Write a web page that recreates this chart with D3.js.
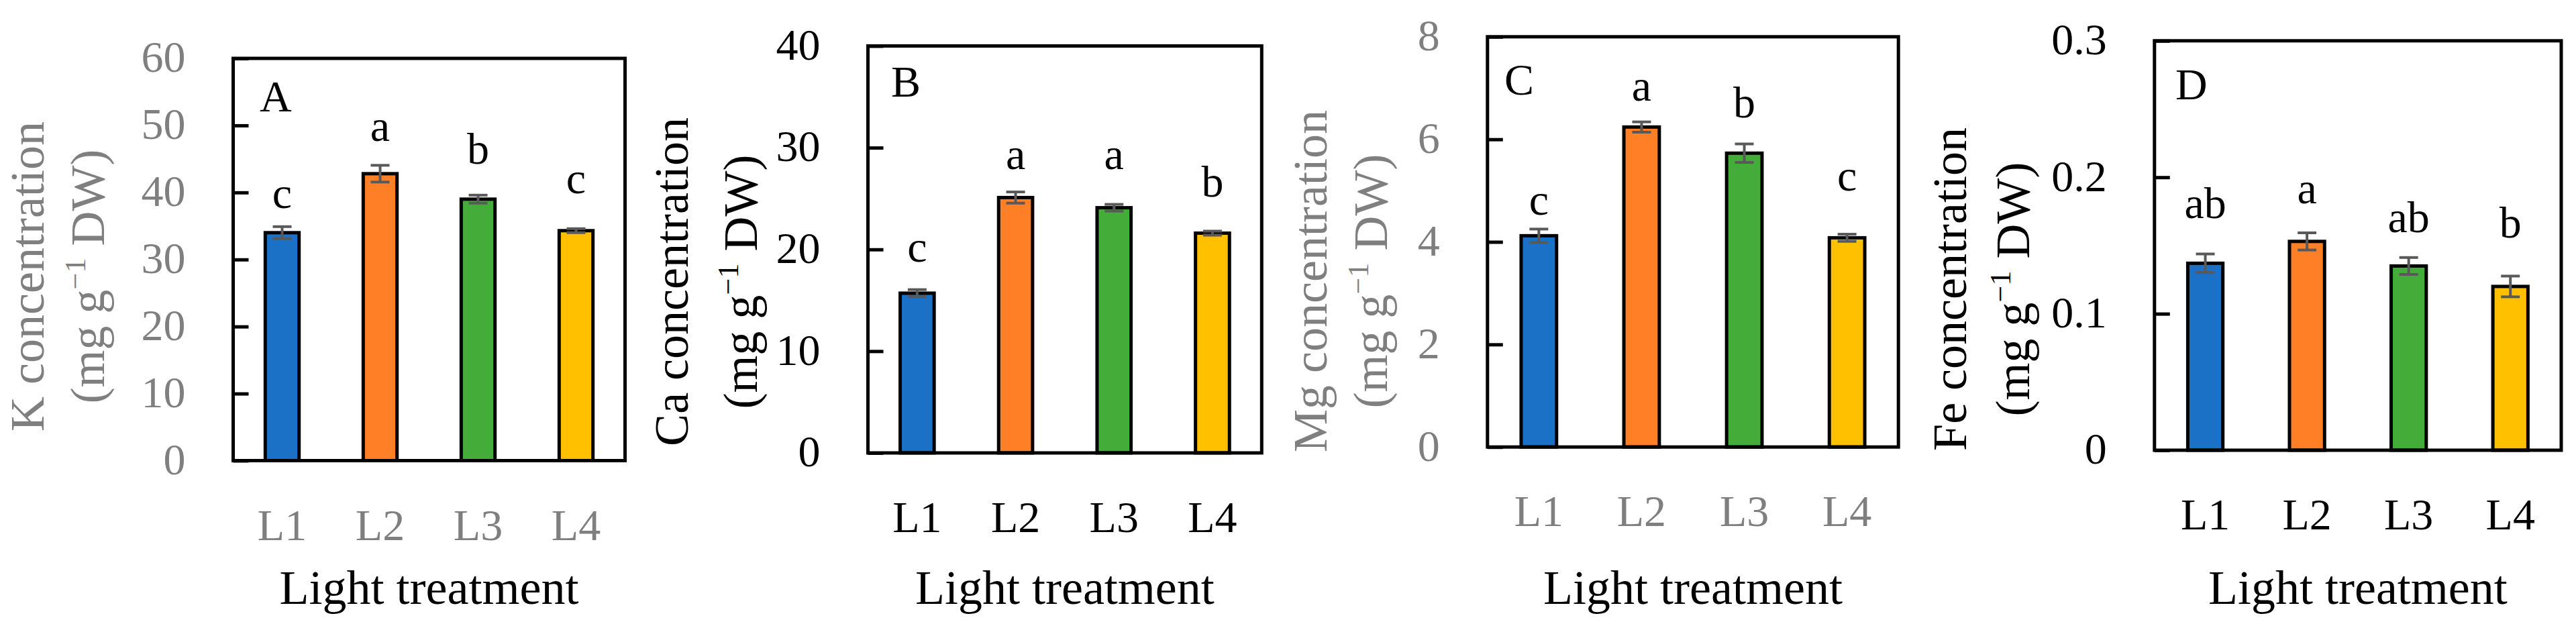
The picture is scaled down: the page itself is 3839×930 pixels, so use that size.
<!DOCTYPE html>
<html>
<head>
<meta charset="utf-8">
<script src="https://cdn.jsdelivr.net/npm/d3@7"></script>
<style>
  body { margin: 0; background: #fff; }
  svg text { font-family: "Palatino Linotype", "Book Antiqua", "Liberation Serif", serif; }
</style>
</head>
<body>
<div id="chart"></div>
<script>
// ---------------- data ----------------
var treatments = ["L1", "L2", "L3", "L4"];
var barColors = ["#1A71C6", "#FF7F27", "#44AD3A", "#FFC000"];

// K
var kMean = [34.0, 42.8, 39.0, 34.3];
var kErr = [0.9, 1.25, 0.6, 0.3];
var kLetters = ["c", "a", "b", "c"];
var kLetterY = [37.7, 47.7, 44.3, 39.9];
var kTicks = [0, 10, 20, 30, 40, 50, 60];

// Ca
var caMean = [15.7, 25.1, 24.1, 21.6];
var caErr = [0.35, 0.55, 0.33, 0.2];
var caLetters = ["c", "a", "a", "b"];
var caLetterY = [18.8, 27.9, 27.9, 25.2];
var caTicks = [0, 10, 20, 30, 40];

// Mg
var mgMean = [4.12, 6.24, 5.73, 4.08];
var mgErr = [0.13, 0.1, 0.18, 0.07];
var mgLetters = ["c", "a", "b", "c"];
var mgLetterY = [4.53, 6.76, 6.43, 5.0];
var mgTicks = [0, 2, 4, 6, 8];

// Fe
var feMean = [0.137, 0.153, 0.135, 0.120];
var feErr = [0.0068, 0.0063, 0.0062, 0.0076];
var feLetters = ["ab", "a", "ab", "b"];
var feLetterY = [0.170, 0.181, 0.160, 0.156];
var feTicks = [0, 0.1, 0.2, 0.3];
var feTickLabels = ["0", "0.1", "0.2", "0.3"];

// ---------------- layout ----------------
var grey = "#7F7F7F";
var panels = [
  { tag: "A", el: "K", mean: kMean, err: kErr, letters: kLetters, letterY: kLetterY,
    ticks: kTicks, max: 60, grey: true,
    box: [347.5, 87, 931.5, 686.5], t1: 65, t2: 155, tyc: 412, tagPos: [387, 166] },
  { tag: "B", el: "Ca", mean: caMean, err: caErr, letters: caLetters, letterY: caLetterY,
    ticks: caTicks, max: 40, grey: false,
    box: [1293.5, 68.5, 1880.3, 675], t1: 1025, t2: 1128, tyc: 420, tagPos: [1328, 144] },
  { tag: "C", el: "Mg", mean: mgMean, err: mgErr, letters: mgLetters, letterY: mgLetterY,
    ticks: mgTicks, max: 8, grey: true,
    box: [2216.8, 54.8, 2829.2, 666.2], t1: 1977, t2: 2067, tyc: 419, tagPos: [2242, 141] },
  { tag: "D", el: "Fe", mean: feMean, err: feErr, letters: feLetters, letterY: feLetterY,
    ticks: feTicks, tickLabels: feTickLabels, max: 0.3, grey: false,
    box: [3210.8, 60.8, 3817, 671], t1: 2930, t2: 3024, tyc: 431, tagPos: [3242, 148] }
];

var svg = d3.select("#chart").append("svg")
  .attr("width", 3839)
  .attr("height", 930);

svg.append("rect").attr("width", 3839).attr("height", 930).attr("fill", "#fff");

panels.forEach(function(p) {
  var x0 = p.box[0], y0 = p.box[1], x1 = p.box[2], y1 = p.box[3];
  var w = x1 - x0, h = y1 - y0;
  var axisColor = p.grey ? grey : "#000";

  var g = svg.append("g").attr("transform", `translate(${x0}, ${y0})`);

  var x = d3.scaleBand().domain(treatments).range([0, w]).paddingInner(0.655).paddingOuter(0.3275);
  var y = d3.scaleLinear().domain([0, p.max]).range([h, 0]);

  // bars
  g.selectAll("rect.bar")
    .data(p.mean)
    .enter()
    .append("rect")
    .attr("class", "bar")
    .attr("x", (d, i) => x(treatments[i]))
    .attr("y", d => y(d))
    .attr("width", x.bandwidth())
    .attr("height", d => h - y(d))
    .attr("fill", (d, i) => barColors[i])
    .attr("stroke", "#000")
    .attr("stroke-width", 5);

  // error bars
  var eb = g.selectAll("g.err")
    .data(p.mean)
    .enter()
    .append("g")
    .attr("class", "err")
    .attr("stroke", "#595959")
    .attr("stroke-width", 4);
  var cx = (d, i) => x(treatments[i]) + x.bandwidth() / 2;
  eb.append("line")
    .attr("x1", cx).attr("x2", cx)
    .attr("y1", (d, i) => y(d + p.err[i]))
    .attr("y2", (d, i) => y(d - p.err[i]));
  eb.append("line")
    .attr("x1", (d, i) => cx(d, i) - 14).attr("x2", (d, i) => cx(d, i) + 14)
    .attr("y1", (d, i) => y(d + p.err[i]))
    .attr("y2", (d, i) => y(d + p.err[i]));
  eb.append("line")
    .attr("x1", (d, i) => cx(d, i) - 14).attr("x2", (d, i) => cx(d, i) + 14)
    .attr("y1", (d, i) => y(d - p.err[i]))
    .attr("y2", (d, i) => y(d - p.err[i]));

  // significance letters
  g.selectAll("text.sig")
    .data(p.letters)
    .enter()
    .append("text")
    .attr("class", "sig")
    .attr("x", (d, i) => x(treatments[i]) + x.bandwidth() / 2)
    .attr("y", (d, i) => y(p.letterY[i]))
    .attr("text-anchor", "middle")
    .style("font-size", "66px")
    .attr("fill", "#000")
    .text(d => d);

  // y axis, ticks pointing inward
  var leftAxis = d3.axisLeft(y)
    .tickValues(p.ticks)
    .tickSize(-23)
    .tickPadding(71)
    .tickFormat((d, i) => p.tickLabels ? p.tickLabels[i] : d);
  var yAxis = g.append("g").call(leftAxis);
  yAxis.select(".domain").remove();
  yAxis.selectAll(".tick line").attr("stroke", "#000").attr("stroke-width", 5);
  yAxis.selectAll(".tick text")
    .attr("x", -71)
    .attr("dy", "0.3em")
    .attr("fill", axisColor)
    .style("font-size", "66px")
    .style("font-family", null);

  // x axis labels
  var bottomAxis = d3.axisBottom(x).tickSize(0).tickPadding(0);
  var xAxis = g.append("g").attr("transform", `translate(0, ${h})`).call(bottomAxis);
  xAxis.select(".domain").remove();
  xAxis.selectAll(".tick text")
    .attr("y", 118)
    .attr("dy", 0)
    .attr("fill", axisColor)
    .style("font-size", "66px")
    .style("font-family", null);

  // frame
  g.append("rect")
    .attr("x", 0).attr("y", 0)
    .attr("width", w).attr("height", h)
    .attr("fill", "none")
    .attr("stroke", "#000")
    .attr("stroke-width", 5);

  // panel tag
  svg.append("text")
    .attr("x", p.tagPos[0])
    .attr("y", p.tagPos[1])
    .style("font-size", "66px")
    .attr("fill", "#000")
    .text(p.tag);

  // x title
  svg.append("text")
    .attr("x", x0 + w / 2)
    .attr("y", 900)
    .attr("text-anchor", "middle")
    .style("font-size", "72px")
    .attr("fill", "#000")
    .text("Light treatment");

  // y title, two lines
  svg.append("text")
    .attr("transform", `translate(${p.t1}, ${p.tyc}) rotate(-90)`)
    .attr("text-anchor", "middle")
    .style("font-size", "72px")
    .attr("fill", axisColor)
    .text(p.el + " concentration");

  var t2 = svg.append("text")
    .attr("transform", `translate(${p.t2}, ${p.tyc}) rotate(-90)`)
    .attr("text-anchor", "middle")
    .style("font-size", "72px")
    .attr("fill", axisColor);
  t2.append("tspan").text("(mg g");
  t2.append("tspan").attr("dy", -28).style("font-size", "44px").text("\u22121");
  t2.append("tspan").attr("dy", 28).text(" DW)");
});
</script>
</body>
</html>
